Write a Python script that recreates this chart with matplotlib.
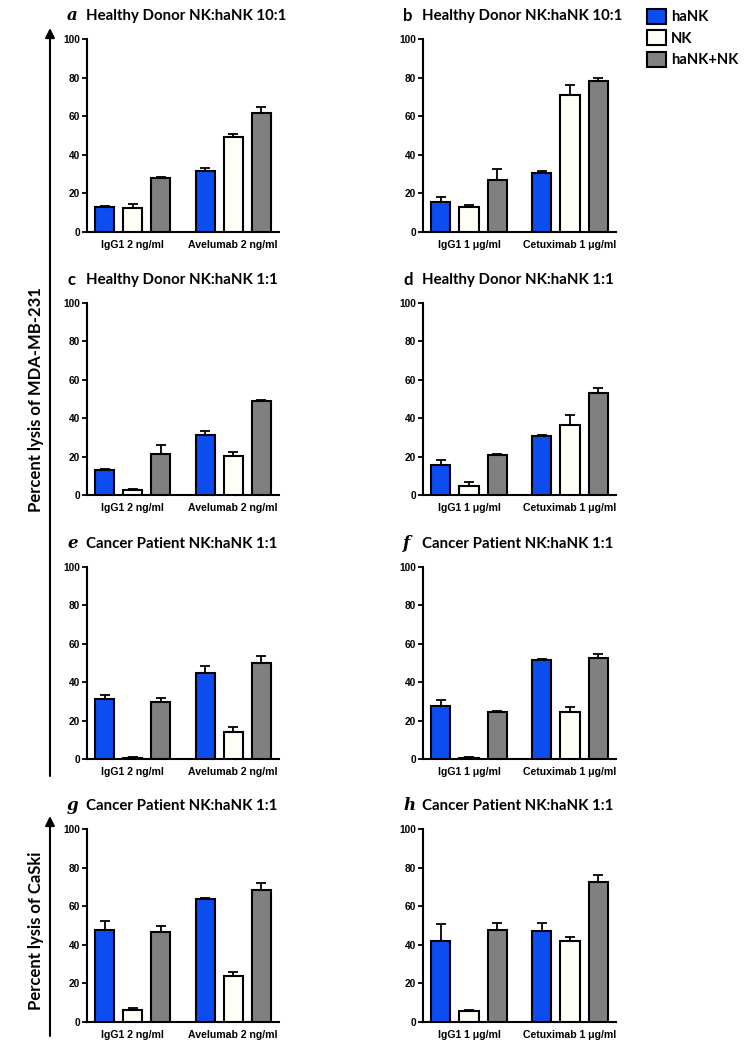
import matplotlib
matplotlib.use("Agg")
import matplotlib.pyplot as plt
import numpy as np

series = ["haNK", "NK", "haNK+NK"]
bar_colors = ["#0B4DF0", "#FFFFF8", "#808080"]

left_groups = ["IgG1 2 ng/ml", "Avelumab 2 ng/ml"]
right_groups = ["IgG1 1 μg/ml", "Cetuximab 1 μg/ml"]

panel_letters = ["a", "b", "c", "d", "e", "f", "g", "h"]
panel_titles = [
    "Healthy Donor NK:haNK 10:1",
    "Healthy Donor NK:haNK 10:1",
    "Healthy Donor NK:haNK 1:1",
    "Healthy Donor NK:haNK 1:1",
    "Cancer Patient NK:haNK 1:1",
    "Cancer Patient NK:haNK 1:1",
    "Cancer Patient NK:haNK 1:1",
    "Cancer Patient NK:haNK 1:1",
]
letter_italic = [True, False, False, False, True, True, True, True]

# mean[series] = [group 1, group 2]; err = upper SEM
a_mean = [[13.0, 31.6], [12.3, 49.2], [28.0, 61.8]]
a_err = [[0.6, 1.7], [2.2, 1.4], [0.7, 2.8]]
b_mean = [[15.8, 30.8], [12.8, 71.0], [26.9, 78.3]]
b_err = [[2.4, 0.9], [1.2, 5.1], [5.5, 1.7]]
c_mean = [[13.0, 31.5], [2.6, 20.4], [21.5, 48.9]]
c_err = [[0.7, 1.9], [0.7, 1.8], [4.8, 0.4]]
d_mean = [[15.6, 30.8], [4.7, 36.5], [20.9, 53.1]]
d_err = [[2.6, 0.7], [1.9, 5.0], [0.6, 2.8]]
e_mean = [[31.5, 45.0], [0.5, 13.9], [29.5, 50.1]]
e_err = [[1.6, 3.5], [0.4, 2.9], [2.4, 3.6]]
f_mean = [[27.7, 51.5], [0.5, 24.3], [24.3, 52.5]]
f_err = [[3.0, 0.5], [0.4, 2.7], [0.8, 2.1]]
g_mean = [[47.6, 63.7], [6.2, 23.9], [46.4, 68.2]]
g_err = [[4.5, 0.3], [1.2, 2.2], [3.3, 3.8]]
h_mean = [[42.2, 47.1], [5.5, 42.2], [47.9, 72.7]]
h_err = [[8.8, 4.1], [0.6, 1.7], [3.3, 3.3]]

all_means = [a_mean, b_mean, c_mean, d_mean, e_mean, f_mean, g_mean, h_mean]
all_errs = [a_err, b_err, c_err, d_err, e_err, f_err, g_err, h_err]

W, H = 750, 1050
fig = plt.figure(figsize=(W / 100, H / 100), dpi=100)

tick_font = "Liberation Sans"
title_font = ["Lato", "DejaVu Sans"]

# pixel boxes (left, top, right, bottom)
col_x = [(87, 279), (423, 616)]
row_y = [(39, 232), (303, 495), (567, 759), (829, 1022)]

group_pos = np.array([0.0, 3.6])
bar_w = 0.68

legend_handles = None
for i in range(8):
    row, col = divmod(i, 2)
    x0, x1 = col_x[col]
    y0, y1 = row_y[row]
    ax = fig.add_axes([x0 / W, 1 - y1 / H, (x1 - x0) / W, (y1 - y0) / H])

    handles = []
    for s in range(3):
        pos = group_pos + s
        bars = ax.bar(pos, all_means[i][s], width=bar_w, color=bar_colors[s],
                      edgecolor="black", linewidth=1.5, zorder=3, label=series[s])
        handles.append(bars)
        ax.errorbar(pos, all_means[i][s],
                    yerr=[np.zeros(2), all_errs[i][s]],
                    fmt="none", ecolor="black", elinewidth=1.3,
                    capsize=3.6, capthick=1.3, zorder=2)
    if legend_handles is None:
        legend_handles = handles

    ax.set_xlim(-0.64, 6.24)
    ax.set_ylim(0, 100)
    ax.set_yticks([0, 20, 40, 60, 80, 100])
    ax.set_xticks(group_pos + 1)
    ax.set_xticklabels(left_groups if col == 0 else right_groups)
    for side in ["top", "right"]:
        ax.spines[side].set_visible(False)
    for side in ["left", "bottom"]:
        ax.spines[side].set_linewidth(1.5)
    ax.tick_params(axis="x", length=0, pad=6)
    ax.tick_params(axis="y", length=3.5, width=1.3, pad=1.5)
    for lab in ax.get_yticklabels():
        lab.set_fontfamily(tick_font)
        lab.set_fontweight("bold")
        lab.set_fontsize(7.3)
    for lab in ax.get_xticklabels():
        lab.set_fontfamily(tick_font)
        lab.set_fontweight("bold")
        lab.set_fontsize(7.6)

    ty = 1 - (y0 - 23) / H
    fig.text((x0 - 20) / W, ty, panel_letters[i],
             family="DejaVu Serif" if letter_italic[i] else title_font,
             style="italic" if letter_italic[i] else "normal",
             fontweight="bold", fontsize=12, va="center", ha="left")
    fig.text((x0 - 1) / W, ty, panel_titles[i], family=title_font,
             fontweight="bold", fontsize=10.8, va="center", ha="left")

# overlay for the long axis arrows and side labels
over = fig.add_axes([0, 0, 1, 1], zorder=-1)
over.set_xlim(0, W)
over.set_ylim(H, 0)
over.axis("off")
over.annotate("", xy=(50, 28), xytext=(50, 776),
              arrowprops=dict(arrowstyle="-|>", lw=1.5, color="black",
                              mutation_scale=14, shrinkA=0, shrinkB=0))
over.annotate("", xy=(50, 816), xytext=(50, 1036),
              arrowprops=dict(arrowstyle="-|>", lw=1.5, color="black",
                              mutation_scale=14, shrinkA=0, shrinkB=0))
over.text(36, 400, "Percent lysis of MDA-MB-231", rotation=90,
          family=title_font, fontweight="bold", fontsize=12,
          ha="center", va="center")
over.text(36, 931, "Percent lysis of CaSki", rotation=90,
          family=title_font, fontweight="bold", fontsize=12,
          ha="center", va="center")

fig.legend(legend_handles, series, loc="upper left",
           bbox_to_anchor=(647 / W, 1 - 9 / H), frameon=False,
           prop={"family": title_font, "weight": "bold", "size": 10.6},
           handlelength=1.3, handleheight=1.15, handletextpad=0.35,
           labelspacing=0.42, borderaxespad=0, borderpad=0)

fig.savefig("out.png", dpi=100)
